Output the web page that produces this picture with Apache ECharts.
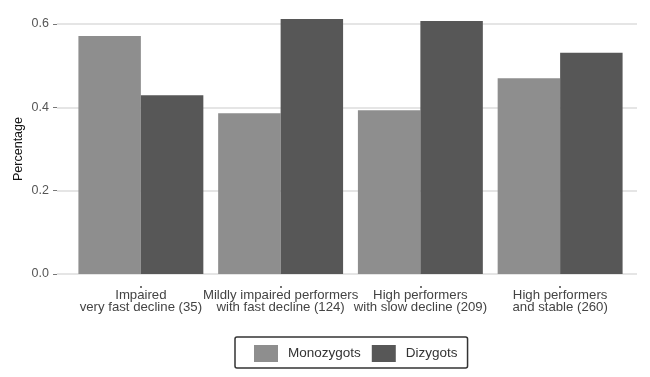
<!DOCTYPE html>
<html>
<head>
<meta charset="utf-8">
<script src="https://cdn.jsdelivr.net/npm/echarts@6/dist/echarts.min.js"></script>
<style>
  html, body { margin: 0; padding: 0; background: #fff; }
  #chart { width: 650px; height: 377px; }
</style>
</head>
<body>
<div id="chart"></div>
<script>
const categories = [
  'Impaired\nvery fast decline (35)',
  'Mildly impaired performers\nwith fast decline (124)',
  'High performers\nwith slow decline (209)',
  'High performers\nand stable (260)'
];
const monozygots = [0.571, 0.386, 0.393, 0.470];
const dizygots = [0.429, 0.612, 0.607, 0.531];
const yTicks = [0, 0.2, 0.4, 0.6];

const font = 'Liberation Sans, Arial, sans-serif';
const chart = echarts.init(document.getElementById('chart'));

// bar grid reaches a little below the zero line, so the category ticks sit lower
const plotTop = 24, zeroY = 274, tickY = 286;
const perUnit = (zeroY - plotTop) / 0.6;
const barMin = -(tickY - zeroY) / perUnit;

const option = {
  animation: false,
  textStyle: { fontFamily: font },
  grid: [
    // frame for gridlines and y labels
    { left: 57, right: 13, top: plotTop, bottom: 377 - zeroY },
    // bars
    { left: 71, right: 20, top: plotTop, bottom: 377 - tickY }
  ],
  xAxis: [
    { gridIndex: 0, type: 'value', show: false, min: 0, max: 1 },
    {
      gridIndex: 1,
      type: 'category',
      data: categories,
      axisLine: { show: false, onZero: false },
      axisTick: { show: true, alignWithLabel: true, length: 2, lineStyle: { color: '#444', width: 1.5 } },
      axisLabel: {
        interval: 0,
        margin: 3,
        fontSize: 13.2,
        lineHeight: 12.5,
        color: '#444',
        fontFamily: font
      }
    }
  ],
  yAxis: [
    {
      gridIndex: 0,
      type: 'value',
      min: 0,
      max: 0.6,
      interval: 0.2,
      name: 'Percentage',
      nameLocation: 'middle',
      nameGap: 32,
      nameMoveOverlap: false,
      nameTextStyle: { fontSize: 12.5, color: '#111', fontFamily: font },
      axisLine: { show: false },
      axisTick: { show: true, length: 4, lineStyle: { color: '#777', width: 1 } },
      axisLabel: {
        margin: 8,
        fontSize: 12.5,
        color: '#555',
        fontFamily: font,
        formatter: v => yTicks.includes(+v.toFixed(1)) ? v.toFixed(1) : ''
      },
      splitLine: { show: true, lineStyle: { color: '#dcdcdc', width: 1.5 } }
    },
    {
      gridIndex: 1,
      type: 'value',
      min: barMin,
      max: 0.6,
      show: false
    }
  ],
  legend: {
    left: 235,
    top: 337,
    itemWidth: 24,
    itemHeight: 17,
    itemGap: 11,
    padding: [8, 10, 6, 19],
    borderColor: '#333',
    borderWidth: 1.5,
    borderRadius: 2,
    icon: 'rect',
    textStyle: { fontSize: 13.5, color: '#333', fontFamily: font, padding: [0, 0, 0, 5] },
    data: ['Monozygots', 'Dizygots']
  },
  series: [
    {
      name: 'Monozygots',
      type: 'bar',
      xAxisIndex: 1,
      yAxisIndex: 1,
      data: monozygots,
      barGap: '0%',
      barCategoryGap: '10.6%',
      clip: false,
      itemStyle: { color: '#8e8e8e' }
    },
    {
      name: 'Dizygots',
      type: 'bar',
      xAxisIndex: 1,
      yAxisIndex: 1,
      data: dizygots,
      barGap: '0%',
      barCategoryGap: '10.6%',
      clip: false,
      itemStyle: { color: '#575757' }
    }
  ]
};

chart.setOption(option);
</script>
</body>
</html>
